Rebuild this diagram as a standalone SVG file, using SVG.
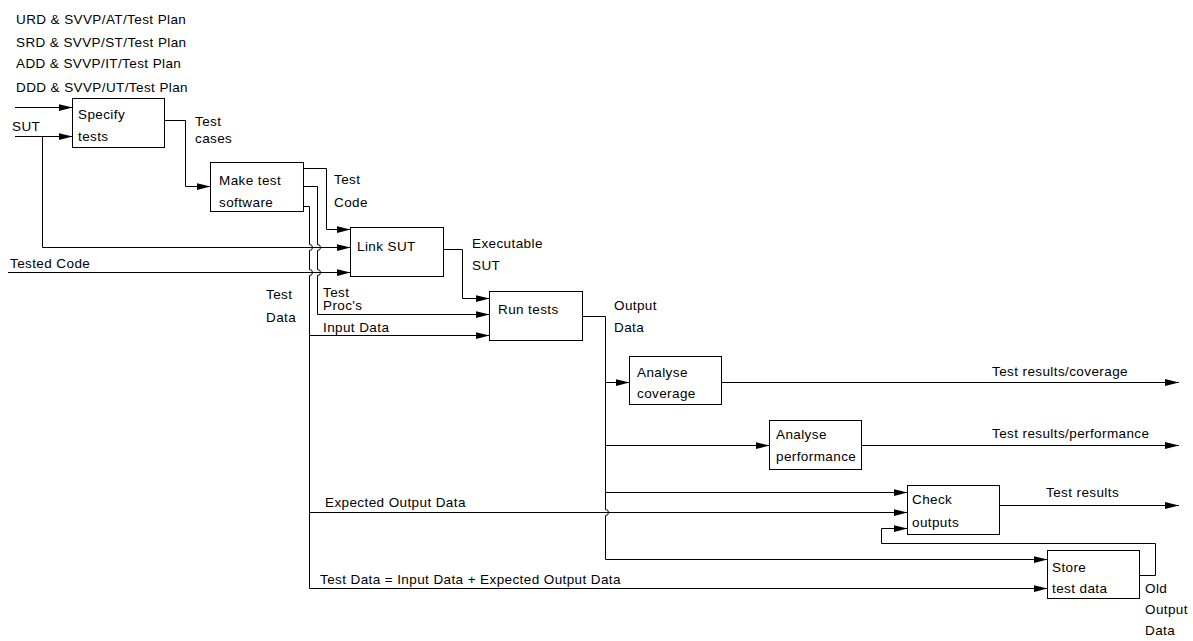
<svg xmlns="http://www.w3.org/2000/svg" width="1193" height="641" viewBox="0 0 1193 641">
<defs>
<marker id="ah" markerUnits="userSpaceOnUse" markerWidth="15" markerHeight="8" refX="14" refY="3.5" orient="auto">
<path d="M0,0 L14,3.5 L0,7 z" fill="#000"/>
</marker>
<style>
text{font-family:"Liberation Sans",Arial,sans-serif;font-size:13.5px;letter-spacing:0.4px;fill:#000}
.box{fill:#fff;stroke:#000;stroke-width:1}
.c{fill:none;stroke:#000;stroke-width:1}
.a{marker-end:url(#ah)}
</style>
</defs>
<rect width="1193" height="641" fill="#fff"/>
<g id="connectors">
<path class="c a" d="M15,107.5 H72.5"/>
<path class="c a" d="M15,136.5 H72.5"/>
<path class="c a" d="M42.5,136.5 V247.5 H350.5"/>
<path class="c a" d="M8,272.5 H350.5"/>
<path class="c a" d="M164.5,120.5 H185.5 V186.5 H210.5"/>
<path class="c a" d="M303.5,168.5 H326.5 V229.5 H350.5"/>
<path class="c a" d="M303.5,186.5 H317.5 V244.5 A3,3 0 0 1 317.5,250.5 V269.5 A3,3 0 0 1 317.5,275.5 V314.5 H489.5"/>
<path class="c a" d="M303.5,206.5 H309.5 V244.5 A3,3 0 0 1 309.5,250.5 V269.5 A3,3 0 0 1 309.5,275.5 V588.5 H1047.5"/>
<path class="c a" d="M309.5,335.5 H489.5"/>
<path class="c a" d="M309.5,512.5 H907.5"/>
<path class="c a" d="M443.5,249.5 H462.5 V298.5 H489.5"/>
<path class="c a" d="M582.5,316.5 H605.5 V509.5 A3,3 0 0 1 605.5,515.5 V559.5 H1047.5"/>
<path class="c a" d="M605.5,382.5 H629.5"/>
<path class="c a" d="M605.5,445.5 H769.5"/>
<path class="c a" d="M605.5,492.5 H907.5"/>
<path class="c a" d="M721.5,382.5 H1179"/>
<path class="c a" d="M861.5,445.5 H1179"/>
<path class="c a" d="M999.5,505.5 H1179"/>
<path class="c a" d="M1139.5,575.5 H1155.5 V543.5 H881.5 V528.5 H907.5"/>
</g>
<g id="labels">
<text x="16" y="24">URD &amp; SVVP/AT/Test Plan</text>
<text x="16" y="46.5">SRD &amp; SVVP/ST/Test Plan</text>
<text x="16" y="68">ADD &amp; SVVP/IT/Test Plan</text>
<text x="16" y="92">DDD &amp; SVVP/UT/Test Plan</text>
<text x="12" y="131">SUT</text>
<text x="195" y="126">Test</text>
<text x="195" y="143">cases</text>
<text x="334" y="184">Test</text>
<text x="334" y="206.5">Code</text>
<text x="10" y="268">Tested Code</text>
<text x="472" y="247.5">Executable</text>
<text x="472" y="270">SUT</text>
<text x="266" y="299">Test</text>
<text x="266" y="322">Data</text>
<text x="323" y="296.5">Test</text>
<text x="323" y="309.5">Proc's</text>
<text x="323" y="331.5">Input Data</text>
<text x="614" y="310">Output</text>
<text x="614" y="332">Data</text>
<text x="992" y="376">Test results/coverage</text>
<text x="992" y="437.5">Test results/performance</text>
<text x="1046" y="497">Test results</text>
<text x="325" y="507">Expected Output Data</text>
<text x="320" y="584">Test Data = Input Data + Expected Output Data</text>
<text x="1145" y="593">Old</text>
<text x="1145" y="614">Output</text>
<text x="1145" y="635">Data</text>
</g>
<g id="specify-tests">
<rect class="box" x="72.5" y="98.5" width="92" height="49"/>
<text x="78" y="119">Specify</text>
<text x="78" y="140.5">tests</text>
</g>
<g id="make-test-software">
<rect class="box" x="210.5" y="162.5" width="93" height="49"/>
<text x="219" y="185">Make test</text>
<text x="219" y="206.5">software</text>
</g>
<g id="link-sut">
<rect class="box" x="350.5" y="227.5" width="93" height="49"/>
<text x="357" y="251">Link SUT</text>
</g>
<g id="run-tests">
<rect class="box" x="489.5" y="291.5" width="93" height="49"/>
<text x="498" y="314">Run tests</text>
</g>
<g id="analyse-coverage">
<rect class="box" x="629.5" y="356.5" width="92" height="48"/>
<text x="637" y="377">Analyse</text>
<text x="637" y="398">coverage</text>
</g>
<g id="analyse-performance">
<rect class="box" x="769.5" y="420.5" width="92" height="49"/>
<text x="776" y="439">Analyse</text>
<text x="776" y="461">performance</text>
</g>
<g id="check-outputs">
<rect class="box" x="907.5" y="485.5" width="92" height="49"/>
<text x="912" y="504">Check</text>
<text x="912" y="527">outputs</text>
</g>
<g id="store-test-data">
<rect class="box" x="1047.5" y="550.5" width="92" height="48"/>
<text x="1052" y="572">Store</text>
<text x="1052" y="593">test data</text>
</g>
</svg>
